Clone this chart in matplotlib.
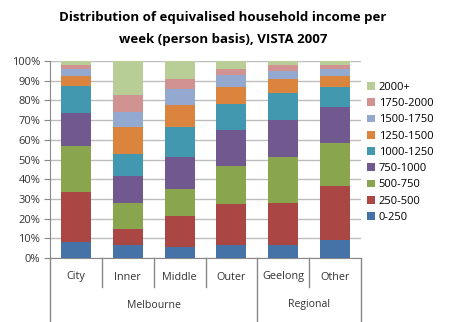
import matplotlib

matplotlib.use("Agg")
import matplotlib.pyplot as plt
import numpy as np
from matplotlib.lines import Line2D
from matplotlib.patches import Patch

plt.rcParams["font.family"] = ["Open Sans", "DejaVu Sans"]

regions = ["City", "Inner", "Middle", "Outer", "Geelong", "Other"]
groups = ["Melbourne", "Regional"]
group_sizes = [4, 2]
bands = ["0-250", "250-500", "500-750", "750-1000", "1000-1250",
         "1250-1500", "1500-1750", "1750-2000", "2000+"]
colors = ["#4572A7", "#AA4643", "#89A54E", "#71588F", "#4198AF",
          "#DB843D", "#93A9CF", "#D19392", "#B9CD96"]

# share of persons (%) per band, one list per region
city = [8.0, 25.4, 23.6, 16.9, 13.7, 4.7, 3.9, 1.9, 2.0]
inner = [6.4, 8.5, 13.2, 13.4, 11.1, 14.1, 7.4, 8.8, 17.1]
middle = [5.8, 15.4, 13.8, 16.1, 15.6, 11.0, 8.3, 5.0, 9.0]
outer = [6.8, 20.8, 19.1, 18.3, 13.2, 8.4, 6.1, 3.1, 4.2]
geelong = [6.4, 21.7, 23.0, 19.1, 13.4, 7.1, 4.4, 2.7, 2.2]
other = [9.1, 27.3, 22.0, 18.4, 10.2, 5.2, 3.9, 1.7, 2.2]

data = np.array([city, inner, middle, outer, geelong, other]) / 100.0
data = data / data.sum(axis=1, keepdims=True)

W, H = 450, 322
fig = plt.figure(figsize=(W / 100, H / 100), dpi=100)
x0, x1, y0, y1 = 50, 361, 258, 61
ax = fig.add_axes([x0 / W, 1 - y0 / H, (x1 - x0) / W, (y0 - y1) / H])

x = np.arange(len(regions))
bottom = np.zeros(len(regions))
for i, band in enumerate(bands):
    ax.bar(x, data[:, i], bottom=bottom, width=0.58, color=colors[i],
           edgecolor="none", label=band, zorder=3)
    bottom += data[:, i]

ax.set_xlim(-0.5, len(regions) - 0.5)
ax.set_ylim(0, 1)
ax.set_yticks(np.arange(0, 1.01, 0.1))
ax.set_yticklabels([f"{int(round(v * 100))}%" for v in np.arange(0, 1.01, 0.1)],
                   fontsize=8, color="#333333")
ax.set_xticks([])
ax.yaxis.grid(True, color="#bdbdbd", linewidth=1.0, zorder=0)
ax.tick_params(axis="y", length=4, color="#888888", pad=3)
for s in ["top", "right"]:
    ax.spines[s].set_visible(False)
ax.spines["left"].set_color("#888888")
ax.spines["bottom"].set_color("#888888")

# two-level category axis
def fx(px):
    return px / W

def fy(py):
    return 1 - py / H

step = (x1 - x0) / len(regions)
for i, name in enumerate(regions):
    fig.text(fx(x0 + step * (i + 0.5)), fy(277), name, ha="center",
             va="center", fontsize=7.8, color="#333333")
edges = np.cumsum([0] + group_sizes)
for k in range(1, len(regions)):
    bottom_px = 322 if k in edges else 287
    fig.add_artist(Line2D([fx(x0 + step * k)] * 2, [fy(y0), fy(bottom_px)],
                          color="#888888", linewidth=1))
for k in [0, len(regions)]:
    fig.add_artist(Line2D([fx(x0 + step * k)] * 2, [fy(y0), fy(322)],
                          color="#888888", linewidth=1))
for g, name in enumerate(groups):
    mid = (edges[g] + edges[g + 1]) / 2
    fig.text(fx(x0 + step * mid), fy(305), name, ha="center", va="center",
             fontsize=7.6, color="#333333")

fig.text(fx(223), fy(18), "Distribution of equivalised household income per",
         ha="center", va="center", fontsize=9.5, fontweight="bold")
fig.text(fx(223), fy(40), "week (person basis), VISTA 2007",
         ha="center", va="center", fontsize=9.5, fontweight="bold")

handles = [Patch(facecolor=c, edgecolor="none") for c in colors][::-1]
fig.legend(handles, bands[::-1], loc="upper left",
           bbox_to_anchor=(fx(367), fy(82)), frameon=False, fontsize=8,
           handlelength=0.7, handleheight=0.7, handletextpad=0.35,
           labelspacing=0.47, borderaxespad=0, borderpad=0)

fig.savefig("out.png", dpi=100)
